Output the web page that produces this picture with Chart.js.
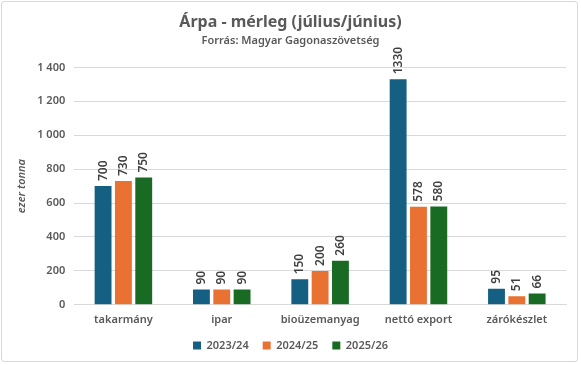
<!DOCTYPE html>
<html>
<head>
<meta charset="UTF-8">
<title>Árpa - mérleg</title>
<script src="https://cdn.jsdelivr.net/npm/chart.js"></script>
<style>
  html, body { margin: 0; padding: 0; background: #fff; }
  #wrap { position: absolute; left: 1px; top: 1px; width: 577px; height: 361px;
          border: 1px solid #d9d9d9; border-radius: 3px; box-sizing: border-box; }
</style>
</head>
<body>
<div id="wrap"><canvas id="chart" width="575" height="359"></canvas></div>
<script>
// adatok
const categories = ['takarmány', 'ipar', 'bioüzemanyag', 'nettó export', 'zárókészlet'];
const seriesNames = ['2023/24', '2024/25', '2025/26'];
const v2023 = [700, 90, 150, 1330, 95];
const v2024 = [730, 90, 200, 578, 51];
const v2025 = [750, 90, 260, 580, 66];
const colors = ['#156082', '#E97132', '#196B24'];

const font = '"Noto Sans", "DejaVu Sans", sans-serif';

// oszlopok fölé elforgatott értékcímkék
const barLabels = {
  id: 'barLabels',
  afterDatasetsDraw(chart) {
    const ctx = chart.ctx;
    ctx.save();
    ctx.font = '600 12px ' + font;
    ctx.fillStyle = '#404040';
    ctx.textAlign = 'left';
    ctx.textBaseline = 'middle';
    chart.data.datasets.forEach((ds, i) => {
      chart.getDatasetMeta(i).data.forEach((bar, j) => {
        ctx.save();
        ctx.translate(bar.x, bar.y - 5);
        ctx.rotate(-Math.PI / 2);
        ctx.fillText(String(ds.data[j]), 0, 0);
        ctx.restore();
      });
    });
    ctx.restore();
  }
};

new Chart(document.getElementById('chart'), {
  type: 'bar',
  data: {
    labels: categories,
    datasets: [v2023, v2024, v2025].map((d, i) => ({
      label: seriesNames[i],
      data: d,
      backgroundColor: colors[i],
      categoryPercentage: 0.62,
      barPercentage: 0.83
    }))
  },
  options: {
    responsive: false,
    animation: false,
    layout: { padding: { left: 13, right: 11, top: 0, bottom: 0 } },
    plugins: {
      title: {
        display: true,
        text: 'Árpa - mérleg (július/június)',
        color: '#595959',
        font: { family: font, size: 16, weight: 'bold' },
        padding: { top: 11, bottom: 2 }
      },
      subtitle: {
        display: true,
        text: 'Forrás: Magyar Gagonaszövetség',
        color: '#595959',
        font: { family: font, size: 11, weight: '600' },
        padding: { top: 0, bottom: 20 }
      },
      legend: {
        position: 'bottom',
        labels: {
          boxWidth: 8, boxHeight: 8, padding: 14,
          color: '#595959',
          font: { family: font, size: 11, weight: '600' }
        }
      },
      tooltip: { enabled: false }
    },
    scales: {
      x: {
        grid: { display: false },
        border: { color: '#d9d9d9' },
        ticks: { color: '#595959', font: { family: font, size: 11, weight: '600' }, padding: 0 }
      },
      y: {
        min: 0, max: 1400,
        ticks: {
          stepSize: 200,
          color: '#595959',
          padding: 9,
          font: { family: font, size: 11, weight: '600' },
          callback: v => v >= 1000 ? String(v).replace(/(\d)(\d{3})$/, '$1 $2') : v
        },
        grid: { color: '#d9d9d9', drawTicks: false },
        border: { display: false },
        title: {
          display: true,
          text: 'ezer tonna',
          color: '#595959',
          padding: { top: 0, bottom: 0 },
          font: { family: font, size: 11, style: 'italic', weight: '600' }
        }
      }
    }
  },
  plugins: [barLabels]
});
</script>
</body>
</html>
